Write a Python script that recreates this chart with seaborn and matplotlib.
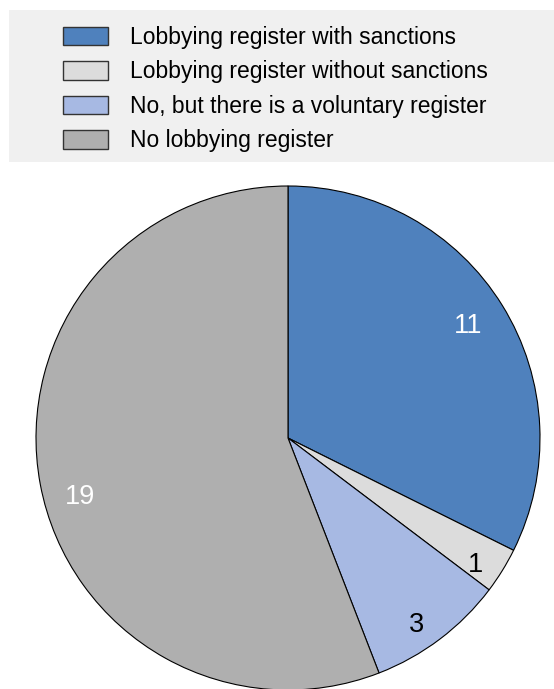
import matplotlib
matplotlib.use("Agg")
import matplotlib.pyplot as plt
import matplotlib.patches as mpatches
import seaborn as sns

# Countries by type of lobbying register
categories = [
    "Lobbying register with sanctions",
    "Lobbying register without sanctions",
    "No, but there is a voluntary register",
    "No lobbying register",
]
counts = [11, 1, 3, 19]
colors = ["#4f81bd", "#dcdcdc", "#a7b9e3", "#afafaf"]
label_colors = ["white", "black", "black", "white"]
# where each count label sits, in units of the pie radius
label_xy = [(0.714, 0.456), (0.746, -0.492), (0.512, -0.730), (-0.825, -0.222)]

sns.set_theme(style="white")
plt.rcParams["font.family"] = ["Liberation Sans", "DejaVu Sans"]
plt.rcParams["text.color"] = "black"

W, H = 554, 689
fig = plt.figure(figsize=(W / 100, H / 100), dpi=100)
fig.patch.set_facecolor("white")

# Legend background band
fig.patches.append(mpatches.Rectangle((9 / W, 1 - 162 / H), (W - 9) / W, (162 - 10) / H,
                                      transform=fig.transFigure, facecolor="#f0f0f0",
                                      edgecolor="none", zorder=0))

# Pie axes: centre (288, 438) px, radius 252 px
R = 252
cx, cy = 288, 438
ax = fig.add_axes([(cx - R) / W, (H - cy - R) / H, 2 * R / W, 2 * R / H])
wedges, texts = ax.pie(
    counts,
    colors=colors,
    labels=[str(c) for c in counts],
    startangle=90,
    counterclock=False,
    radius=1,
    wedgeprops=dict(edgecolor="black", linewidth=0.8),
    textprops=dict(fontsize=19.5),
)
for t, c, xy in zip(texts, label_colors, label_xy):
    t.set_color(c)
    t.set_position(xy)
    t.set_ha("center")
    t.set_va("center_baseline")
ax.set_xlim(-1, 1)
ax.set_ylim(-1, 1)
ax.set_aspect("equal")
ax.axis("off")

handles = [mpatches.Patch(facecolor=col, edgecolor="#333333", linewidth=1.0) for col in colors]
fig.legend(
    handles, categories,
    loc="upper left",
    bbox_to_anchor=(63 / W, 1 - 26 / H),
    bbox_transform=fig.transFigure,
    frameon=False,
    fontsize=16.5,
    labelcolor="black",
    handlelength=1.95,
    handleheight=0.88,
    handletextpad=0.97,
    labelspacing=0.5,
    borderpad=0,
    borderaxespad=0,
)

fig.savefig("out.png", dpi=100, facecolor="white")
